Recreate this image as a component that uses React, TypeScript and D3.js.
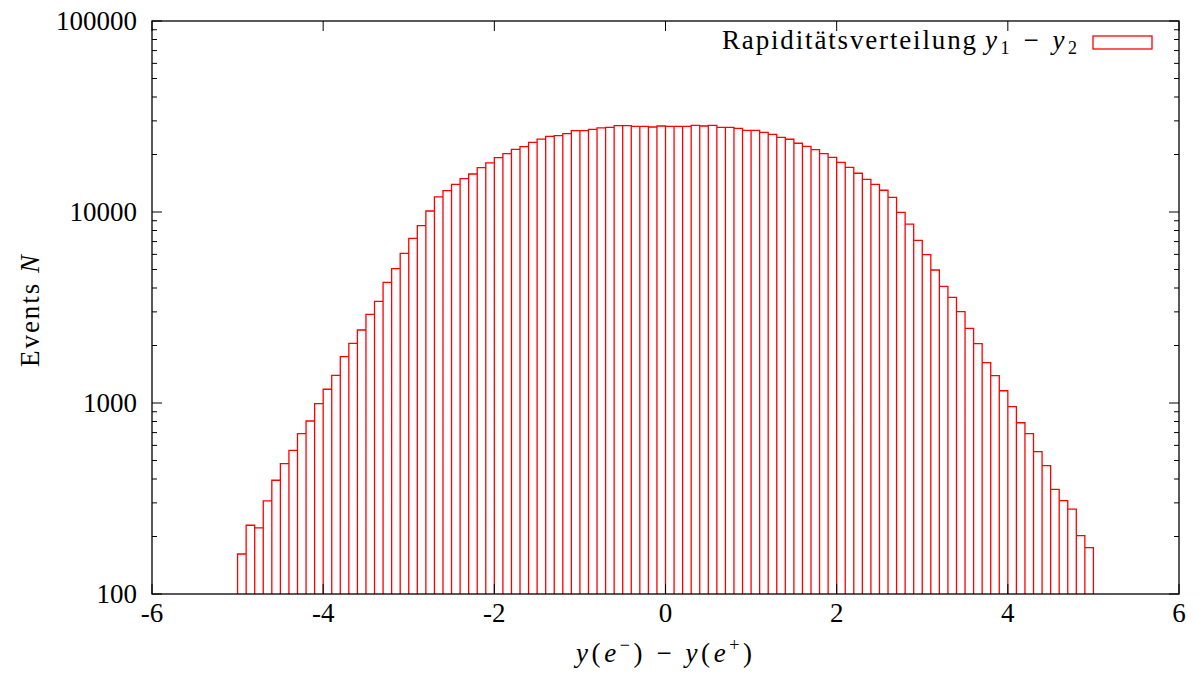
import React from "react";
import * as d3 from "d3";

// Histogram of the rapidity difference y(e-) - y(e+), bins of width 0.1 from -5 to 5
const BIN_START = -5;
const BIN_WIDTH = 0.1;
const counts: number[] = [
  162, 229, 222, 307, 394, 481, 565, 691, 805, 992,
  1180, 1396, 1748, 2053, 2411, 2912, 3407, 4285, 5047, 6077,
  7281, 8476, 10120, 11990, 12940, 13960, 14940, 15810, 17060, 18060,
  19240, 20200, 21290, 21970, 23170, 24100, 24900, 25100, 25700, 26670,
  26670, 27100, 27540, 27750, 28320, 28320, 28060, 28060, 27860, 28200,
  28060, 28060, 28060, 28440, 28200, 28440, 27750, 27750, 27420, 26780,
  26780, 26130, 25520, 24610, 24040, 22900, 22070, 21200, 20200, 19330,
  18200, 17140, 15950, 14830, 13960, 13000, 11940, 9960, 8650, 7110,
  5975, 4970, 4083, 3575, 3006, 2461, 2045, 1626, 1390, 1159,
  957, 788, 691, 556, 470, 353, 308, 278, 202, 175,
];

const xTicks = [-6, -4, -2, 0, 2, 4, 6];
const yTicks = [100, 1000, 10000, 100000];
const xDomain: [number, number] = [-6, 6];
const yDomain: [number, number] = [100, 100000];

const W = 1199;
const H = 673;
const M = { left: 152, right: 1179, top: 21, bottom: 594 };
const FONT = "'Liberation Serif', 'DejaVu Serif', serif";
const RED = "#ff0000";

export default function App() {
  const x = d3.scaleLinear().domain(xDomain).range([M.left, M.right]);
  const y = d3.scaleLog().domain(yDomain).range([M.bottom, M.top]);

  // minor log ticks 2..9 within each decade
  const minorY: number[] = [];
  for (let d = 0; d < yTicks.length - 1; d++) {
    for (let k = 2; k <= 9; k++) minorY.push(yTicks[d] * k);
  }

  const barPath = counts
    .map((c, i) => {
      const lo = BIN_START + i * BIN_WIDTH;
      return `M${x(lo)},${M.bottom}V${y(c)}H${x(lo + BIN_WIDTH)}V${M.bottom}`;
    })
    .join("");

  const majorLen = 10;
  const minorLen = 5;

  return (
    <svg
      width={W}
      height={H}
      viewBox={`0 0 ${W} ${H}`}
      style={{ position: "absolute", left: 0, top: 0, background: "#fff" }}
      fontFamily={FONT}
    >
      <rect x={0} y={0} width={W} height={H} fill="#fff" />

      {/* histogram bars */}
      <path d={barPath} fill="none" stroke={RED} strokeWidth={1.3} />

      {/* axis ticks, mirrored on all sides */}
      <g stroke="#000" strokeWidth={1}>
        {xTicks.map((t) => (
          <g key={`xt${t}`}>
            <line x1={x(t)} x2={x(t)} y1={M.bottom} y2={M.bottom - majorLen} />
            <line x1={x(t)} x2={x(t)} y1={M.top} y2={M.top + majorLen} />
          </g>
        ))}
        {yTicks.map((t) => (
          <g key={`yt${t}`}>
            <line x1={M.left} x2={M.left + majorLen} y1={y(t)} y2={y(t)} />
            <line x1={M.right} x2={M.right - majorLen} y1={y(t)} y2={y(t)} />
          </g>
        ))}
        {minorY.map((t) => (
          <g key={`ym${t}`}>
            <line x1={M.left} x2={M.left + minorLen} y1={y(t)} y2={y(t)} />
            <line x1={M.right} x2={M.right - minorLen} y1={y(t)} y2={y(t)} />
          </g>
        ))}
      </g>

      {/* frame */}
      <rect
        x={M.left}
        y={M.top}
        width={M.right - M.left}
        height={M.bottom - M.top}
        fill="none"
        stroke="#000"
        strokeWidth={1.3}
      />

      {/* tick labels */}
      <g fontSize={27} fill="#000">
        {xTicks.map((t) => (
          <text key={`xl${t}`} x={x(t)} y={622} textAnchor="middle">
            {t}
          </text>
        ))}
        {yTicks.map((t) => (
          <text key={`yl${t}`} x={137} y={y(t) + 8.5} textAnchor="end">
            {t}
          </text>
        ))}
      </g>

      {/* axis titles */}
      <text
        fontSize={27}
        textAnchor="middle"
        textLength={112}
        lengthAdjust="spacing"
        transform={`translate(38.5, 311) rotate(-90)`}
      >
        Events <tspan fontStyle="italic">N</tspan>
      </text>

      <text
        fontSize={27}
        x={576}
        y={662}
        textLength={176}
        lengthAdjust="spacing"
      >
        <tspan fontStyle="italic">y</tspan>
        <tspan>(</tspan>
        <tspan fontStyle="italic">e</tspan>
        <tspan fontSize={18} dy={-11}>−</tspan>
        <tspan dy={11}>)</tspan>
        <tspan> − </tspan>
        <tspan fontStyle="italic">y</tspan>
        <tspan>(</tspan>
        <tspan fontStyle="italic">e</tspan>
        <tspan fontSize={18} dy={-11}>+</tspan>
        <tspan dy={11}>)</tspan>
      </text>

      {/* legend */}
      <text
        fontSize={27}
        x={722}
        y={49}
        textLength={254}
        lengthAdjust="spacing"
      >
        Rapiditätsverteilung
      </text>
      <text
        fontSize={27}
        x={985}
        y={49}
        textLength={92}
        lengthAdjust="spacing"
      >
        <tspan fontStyle="italic">y</tspan>
        <tspan fontSize={18} dy={5}>1</tspan>
        <tspan dy={-5}> − </tspan>
        <tspan fontStyle="italic">y</tspan>
        <tspan fontSize={18} dy={5}>2</tspan>
      </text>
      <rect
        x={1093}
        y={36}
        width={59}
        height={13}
        fill="none"
        stroke={RED}
        strokeWidth={1.3}
      />
    </svg>
  );
}
